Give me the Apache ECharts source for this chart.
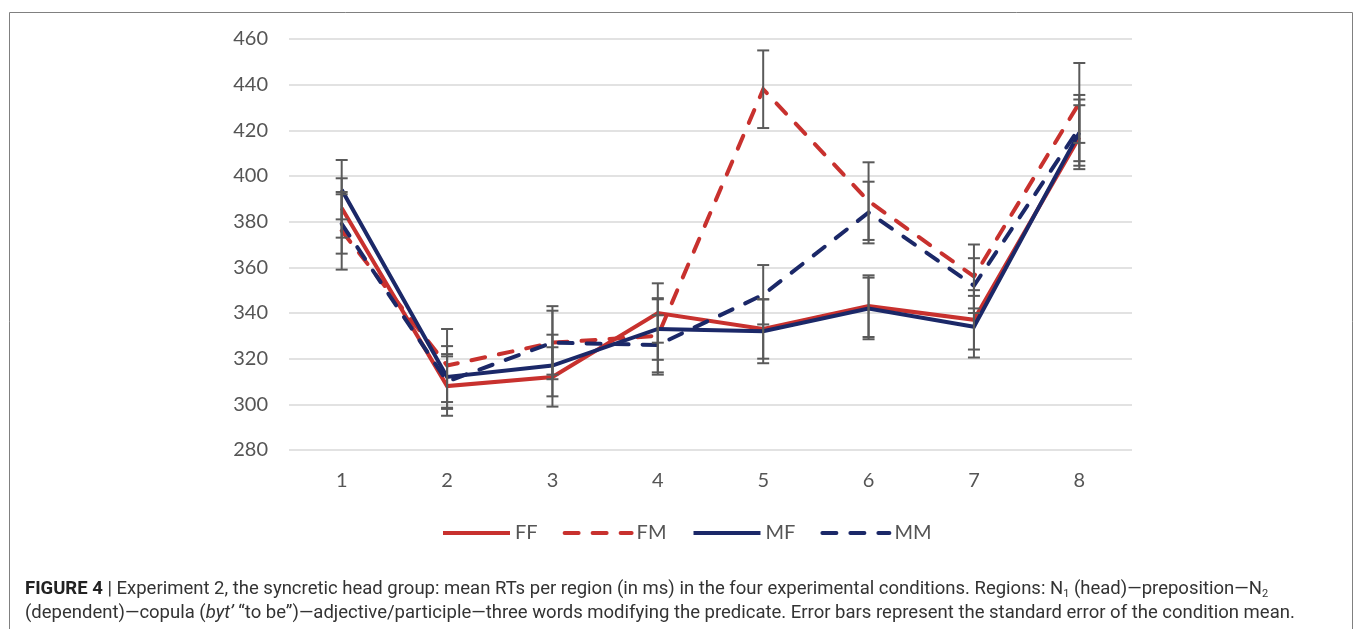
<!DOCTYPE html>
<html>
<head>
<meta charset="utf-8">
<title>Experiment 2 – mean RTs per region</title>
<script src="https://cdn.jsdelivr.net/npm/echarts@6/dist/echarts.min.js"></script>
<style>
  html, body { margin: 0; padding: 0; background: #ffffff; }
  #chart { width: 1357px; height: 629px; }
</style>
</head>
<body>
<div id="chart"></div>
<script>
// Regions of the sentence (x axis)
const regions = ['1', '2', '3', '4', '5', '6', '7', '8'];

// Mean RTs (ms) per region for each condition
const FF = [386, 308, 312, 340, 333, 343, 337, 417];
const FM = [376, 317, 327, 330, 438, 389, 356, 432];
const MF = [394, 312, 317, 333, 332, 342, 334, 419];
const MM = [379, 310, 327, 326, 348, 384, 352, 421];

// Standard errors of the condition means
const FF_se = [13, 13, 13, 13, 13, 13.5, 13, 14];
const FM_se = [17, 16, 16, 16, 17, 17, 14, 17.5];
const MF_se = [13, 13.5, 13.5, 13.5, 14, 13.5, 13.5, 14.5];
const MM_se = [13, 12, 14, 13, 13, 13.5, 12, 14.5];

// Y axis range and step
const yMin = 280, yMax = 460, yStep = 20;

const RED = '#c8312e';
const NAVY = '#1b2868';
const GREY_TXT = '#555555';

const conditions = [
  { name: 'FF', mean: FF, se: FF_se, color: RED,  dashed: false },
  { name: 'FM', mean: FM, se: FM_se, color: RED,  dashed: true  },
  { name: 'MF', mean: MF, se: MF_se, color: NAVY, dashed: false },
  { name: 'MM', mean: MM, se: MM_se, color: NAVY, dashed: true  }
];

const chart = echarts.init(document.getElementById('chart'), null, { renderer: 'canvas' });

// Error bar: vertical whisker with caps, from mean - se to mean + se
function renderErrorBar(params, api) {
  const x = api.value(0);
  const lo = api.coord([x, api.value(1)]);
  const hi = api.coord([x, api.value(2)]);
  const half = 6;
  const style = { stroke: '#5a5a5a', lineWidth: 2 };
  return {
    type: 'group',
    children: [
      { type: 'line', shape: { x1: hi[0], y1: hi[1], x2: lo[0], y2: lo[1] }, style },
      { type: 'line', shape: { x1: hi[0] - half, y1: hi[1], x2: hi[0] + half, y2: hi[1] }, style },
      { type: 'line', shape: { x1: lo[0] - half, y1: lo[1], x2: lo[0] + half, y2: lo[1] }, style }
    ]
  };
}

const series = [];
conditions.forEach(c => {
  series.push({
    name: c.name,
    type: 'line',
    data: c.mean,
    symbol: 'none',
    color: c.color,
    z: 3,
    lineStyle: {
      color: c.color,
      width: 4,
      type: c.dashed ? [14, 14] : 'solid',
      cap: c.dashed ? 'round' : 'butt',
      join: 'miter'
    }
  });
});
conditions.forEach(c => {
  series.push({
    name: c.name + ' SE',
    type: 'custom',
    renderItem: renderErrorBar,
    data: c.mean.map((m, i) => [i, m - c.se[i], m + c.se[i]]),
    encode: { x: 0, y: [1, 2] },
    z: 4,
    silent: true
  });
});

const captionFont = 'Roboto, "Liberation Sans", sans-serif';
const capRich = {
  b: { fontWeight: 'bold', fontSize: 18.5, fontFamily: captionFont, fill: '#222' },
  i: { fontStyle: 'italic', fontSize: 18.5, fontFamily: captionFont, fill: '#333' },
  sub: { fontSize: 11, fontFamily: captionFont, fill: '#333', padding: [9, 0, 0, 0] }
};

const option = {
  backgroundColor: '#ffffff',
  animation: false,
  grid: { left: 289, right: 225, top: 39, bottom: 179, containLabel: false },
  xAxis: {
    type: 'category',
    data: regions,
    boundaryGap: true,
    axisLine: { show: false },
    axisTick: { show: false },
    axisLabel: { color: GREY_TXT, fontSize: 20, fontFamily: 'Lato, "Open Sans", sans-serif', margin: 21 },
    splitLine: { show: false }
  },
  yAxis: {
    type: 'value',
    min: yMin,
    max: yMax,
    interval: yStep,
    axisLine: { show: false },
    axisTick: { show: false },
    axisLabel: { color: GREY_TXT, fontSize: 20, fontFamily: 'Lato, "Open Sans", sans-serif', margin: 21 },
    splitLine: { lineStyle: { color: '#d9d9d9', width: 1.5 } }
  },
  legend: {
    data: conditions.map(c => c.name),
    left: 436,
    top: 518,
    itemWidth: 67,
    itemHeight: 12,
    itemGap: 25,
    itemStyle: { color: 'rgba(0,0,0,0)', borderWidth: 0, opacity: 0 },
    lineStyle: { width: 4 },
    textStyle: { color: GREY_TXT, fontSize: 20, fontFamily: 'Lato, "Open Sans", sans-serif' }
  },
  graphic: [
    {
      type: 'rect',
      silent: true,
      shape: { x: 9.5, y: 12.5, width: 1343, height: 640 },
      style: { fill: 'none', stroke: '#808080', lineWidth: 1 }
    },
    {
      type: 'text',
      left: 25,
      top: 580,
      silent: true,
      style: {
        text: '{b|FIGURE 4} | Experiment 2, the syncretic head group: mean RTs per region (in ms) in the four experimental conditions. Regions: N{sub|1} (head)\u2014preposition\u2014N{sub|2}',
        font: '18.5px ' + captionFont,
        fill: '#333',
        rich: capRich
      }
    },
    {
      type: 'text',
      left: 25,
      top: 604,
      silent: true,
      style: {
        text: '(dependent)\u2014copula ({i|byt\u2019} \u201cto be\u201d)\u2014adjective/participle\u2014three words modifying the predicate. Error bars represent the standard error of the condition mean.',
        font: '18.5px ' + captionFont,
        fill: '#333',
        rich: capRich
      }
    }
  ],
  series: series
};

chart.setOption(option);
</script>
</body>
</html>
